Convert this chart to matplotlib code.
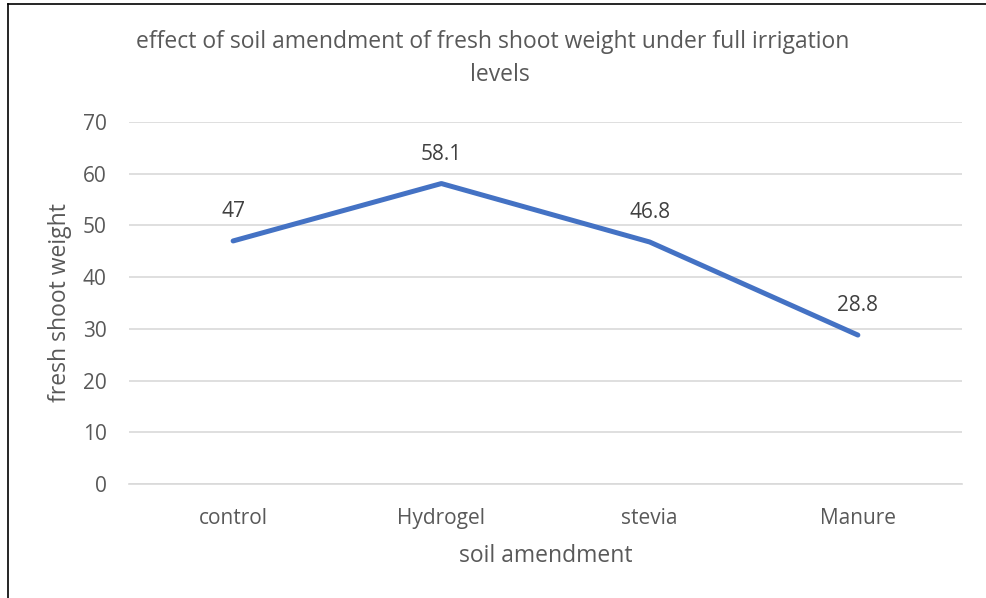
import matplotlib.pyplot as plt
from matplotlib.lines import Line2D

# data
categories = ['control', 'Hydrogel', 'stevia', 'Manure']
weights = [47, 58.1, 46.8, 28.8]
labels = ['47', '58.1', '46.8', '28.8']
yticks = [0, 10, 20, 30, 40, 50, 60, 70]

plt.rcParams['font.family'] = ['Open Sans', 'DejaVu Sans']
grey = '#595959'

fig = plt.figure(figsize=(9.86, 5.98), dpi=100)
ax = fig.add_axes([129 / 986, 1 - 484 / 598, (962 - 129) / 986, (484 - 122) / 598])

x = list(range(len(categories)))
ax.plot(x, weights, color='#4472C4', linewidth=3.6, solid_capstyle='round', zorder=3)
for xi, yi, lab in zip(x, weights, labels):
    ax.annotate(lab, (xi, yi), xytext=(0, 21), textcoords='offset points',
                ha='center', va='center', fontsize=15, color='#404040')

ax.set_xlim(-0.5, len(categories) - 0.5)
ax.set_ylim(0, 70)
ax.set_yticks(yticks)
ax.set_xticks(x)
ax.set_xticklabels(categories)
ax.grid(axis='y', color='#d9d9d9', linewidth=1.2)
ax.set_axisbelow(True)
for s in ['top', 'right', 'left']:
    ax.spines[s].set_visible(False)
ax.spines['bottom'].set_color('#d9d9d9')
ax.spines['bottom'].set_linewidth(1.2)
ax.tick_params(axis='both', length=0, labelsize=15, labelcolor=grey)
ax.tick_params(axis='x', pad=17)
ax.tick_params(axis='y', pad=16)

ax.set_xlabel('soil amendment', fontsize=16.5, color=grey, labelpad=11)
ax.set_ylabel('fresh shoot weight', fontsize=16.5, color=grey, labelpad=8)

fig.text(0.5, 1 - 42 / 598, 'effect of soil amendment of fresh shoot weight under full irrigation',
         ha='center', va='center', fontsize=16.5, color=grey)
fig.text(500 / 986, 1 - 75 / 598, 'levels', ha='center', va='center', fontsize=16.5, color=grey)

# chart border (left and top edges visible)
fig.add_artist(Line2D([8 / 986, 8 / 986], [0, 1 - 4 / 598], color='black', linewidth=1.2,
                      transform=fig.transFigure))
fig.add_artist(Line2D([8 / 986, 1], [1 - 4 / 598, 1 - 4 / 598], color='black', linewidth=1.2,
                      transform=fig.transFigure))

fig.savefig('out.png', dpi=100)
